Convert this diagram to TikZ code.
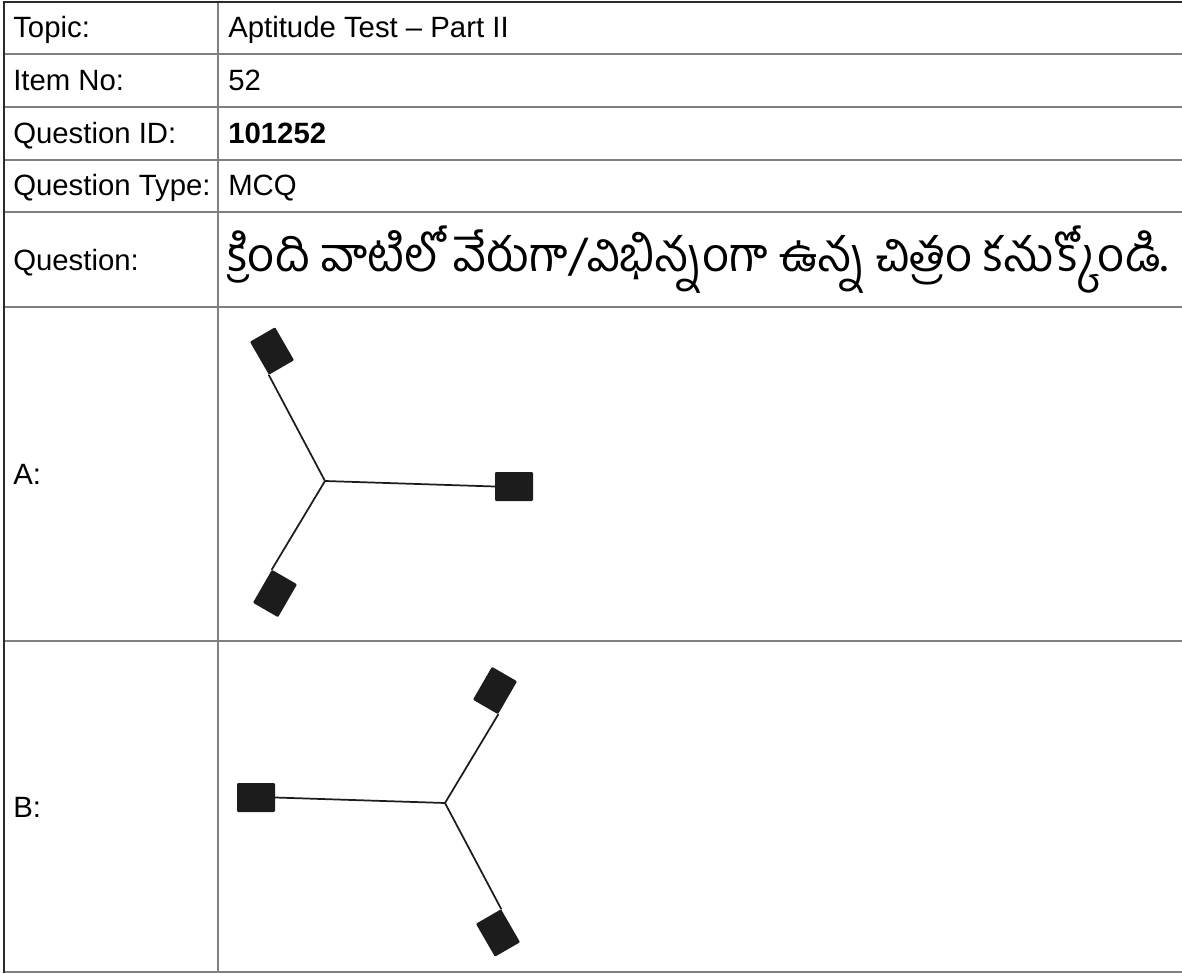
\documentclass[tikz,border=0pt]{standalone}
\usepackage{fontspec}
\usepackage{graphicx}
\setmainfont{Liberation Sans}
\newfontfamily\telugu[Script=Telugu]{Hind Guntur}
\usetikzlibrary{calc}
\definecolor{rulec}{HTML}{808080}
\definecolor{framec}{HTML}{2B2B2B}
\definecolor{inkc}{HTML}{1C1C1C}
\begin{document}
\begin{tikzpicture}[x=0.75pt,y=0.75pt,
  lbl/.style={anchor=base west, inner sep=0pt, font=\fontsize{22pt}{26pt}\selectfont},
  rulel/.style={draw=rulec, line width=1.5pt},
  framel/.style={draw=framec, line width=1.5pt},
  blk/.style={fill=inkc, draw=none, minimum width=28.5pt, minimum height=21.75pt, inner sep=0pt, rounded corners=0.8pt},
  arm/.style={draw=inkc, line width=1.3pt, line cap=round}]
\useasboundingbox (0,0) rectangle (1182,-974);
% table rules
\foreach \yy in {54,107,160,212,307,641,972} \draw[rulel] (4,-\yy) -- (1182,-\yy);
\draw[rulel] (218,-2.5) -- (218,-972);
\draw[framel] (2.5,-2.5) -- (1182,-2.5);
\draw[framel] (3.5,-1.5) -- (3.5,-973);
% labels
\node[lbl] (tl) at (13,-37.5) {Topic:};
\node[lbl] (tv) at (228,-37.5) {Aptitude Test – Part II};
\node[lbl] (il) at (13,-90.5) {Item No:};
\node[lbl] (iv) at (228,-90.5) {52};
\node[lbl] (ql) at (13,-143) {Question ID:};
\node[lbl] (qv) at (228,-143) {\textbf{101252}};
\node[lbl] (yl) at (13,-195.5) {Question Type:};
\node[lbl] (yv) at (228,-195.5) {MCQ};
\node[lbl] (sl) at (13,-270) {Question:};
\node[anchor=west, inner sep=0pt] (sv) at (228,-259.5) {\resizebox{705pt}{!}{\telugu\fontsize{30pt}{36pt}\selectfont క్రింది వాటిలో వేరుగా/విభిన్నంగా ఉన్న చిత్రం కనుక్కోండి.}};
\node[lbl] (al) at (13,-484.5) {A:};
\node[lbl] (bl) at (13,-817) {B:};
% figure A
\coordinate (ja) at (325,-481);
\node[blk, rotate=120] (a1) at ($(ja)+(-53,130)$) {};
\node[blk, rotate=240] (a2) at ($(ja)+(-50,-112.5)$) {};
\node[blk] (a3) at ($(ja)+(189,-5.5)$) {};
\draw[arm] (ja) -- (a1.north west);
\draw[arm] (ja) -- (a2.south west);
\draw[arm] (ja) -- (a3.west);
% figure B
\coordinate (jb) at (445,-803);
\node[blk, rotate=300] (b3) at ($(jb)+(53,-130)$) {};
\node[blk, rotate=60] (b2) at ($(jb)+(50,112.5)$) {};
\node[blk] (b1) at ($(jb)+(-189,5.5)$) {};
\draw[arm] (jb) -- (b3.north west);
\draw[arm] (jb) -- (b2.south west);
\draw[arm] (jb) -- (b1.east);
\end{tikzpicture}
\end{document}
